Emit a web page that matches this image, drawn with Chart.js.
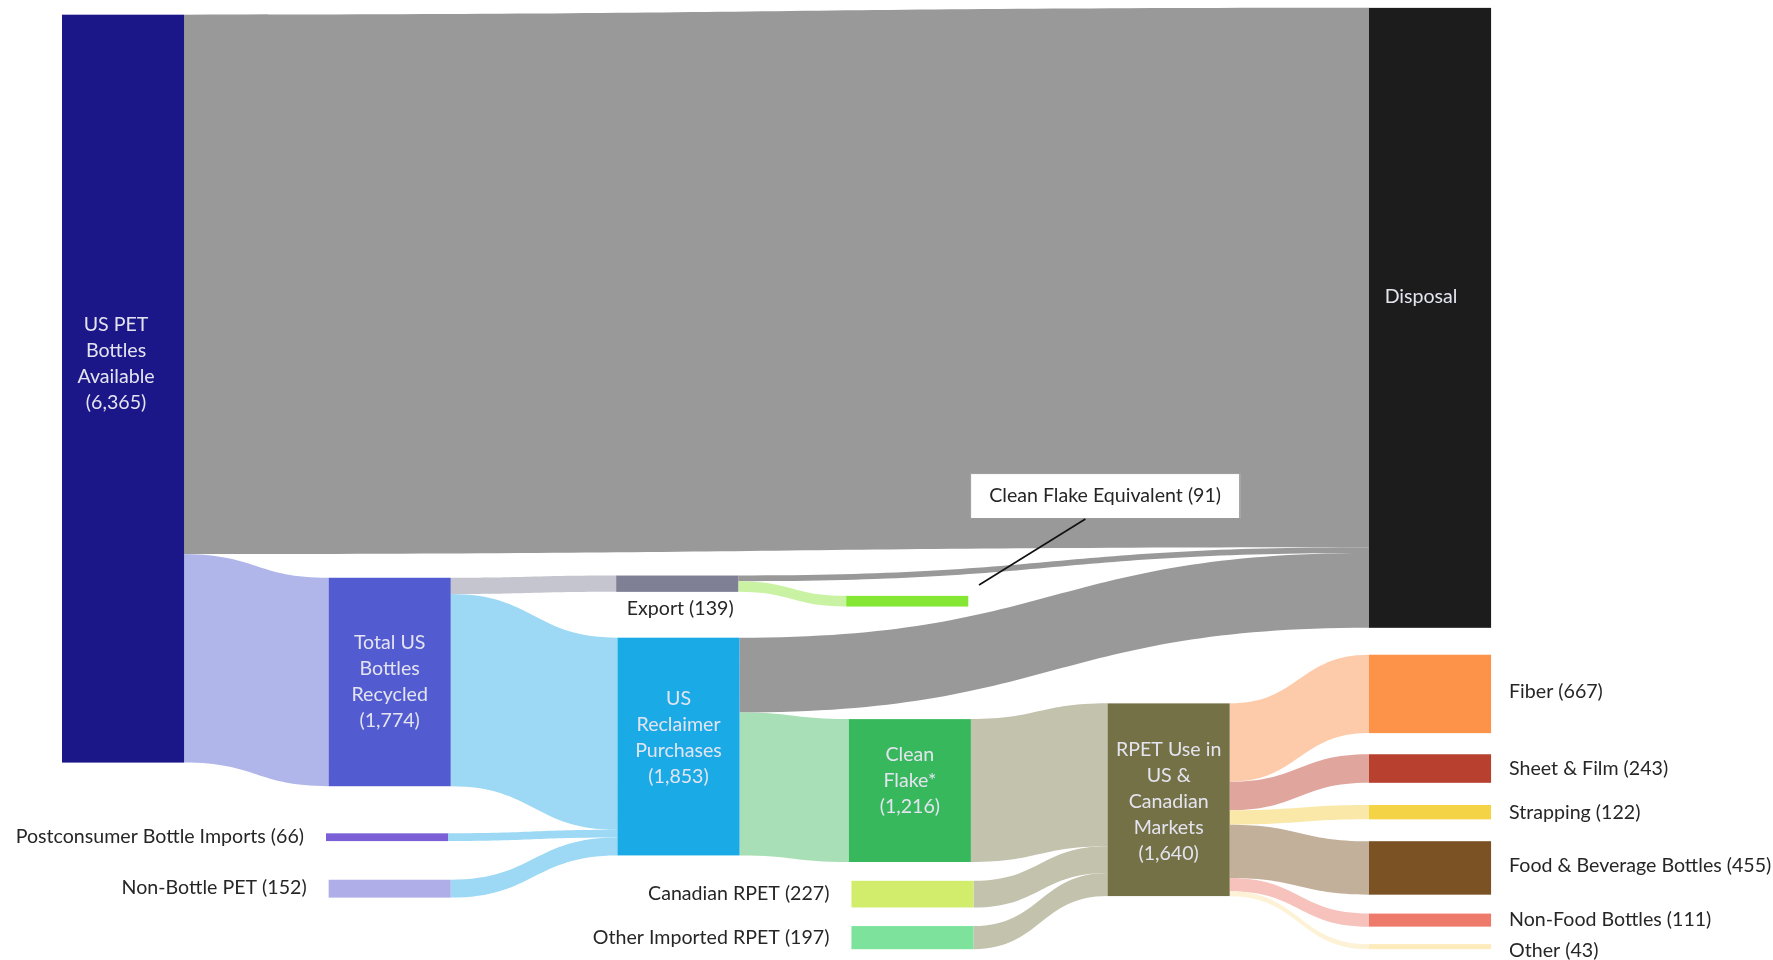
<!DOCTYPE html>
<html lang="en">
<head>
    <meta charset="UTF-8">
    <title>US PET Bottle Flows</title>
    <script src="https://cdn.jsdelivr.net/npm/chart.js"></script>
    <style>
        body { margin: 0; background: #fff; }
        .wrap { width: 1773px; height: 960px; position: relative; }
    </style>
</head>
<body>
    <div class="wrap">
        <canvas id="sankeyChart"></canvas>
    </div>

    <script>
        // Nodes (values in million lbs)
        const nodeLabels = [
            'US PET\nBottles\nAvailable\n(6,365)',
            'Disposal',
            'Total US\nBottles\nRecycled\n(1,774)',
            'Postconsumer Bottle Imports (66)',
            'Non-Bottle PET (152)',
            'Export (139)',
            'US\nReclaimer\nPurchases\n(1,853)',
            'Clean Flake Equivalent (91)',
            'Clean\nFlake*\n(1,216)',
            'Canadian RPET (227)',
            'Other Imported RPET (197)',
            'RPET Use in\nUS &\nCanadian\nMarkets\n(1,640)',
            'Fiber (667)',
            'Sheet & Film (243)',
            'Strapping (122)',
            'Food & Beverage Bottles (455)',
            'Non-Food Bottles (111)',
            'Other (43)'
        ];
        const nodeValues = [6365, 5276, 1774, 66, 152, 139, 1853, 91, 1216, 227, 197, 1640, 667, 243, 122, 455, 111, 43];

        // Flows
        const flowFrom   = [0, 0, 2, 2, 3, 4, 5, 5, 6, 6, 8, 9, 10, 11, 11, 11, 11, 11, 11];
        const flowTo     = [1, 2, 5, 6, 6, 6, 1, 7, 1, 8, 11, 11, 11, 12, 13, 14, 15, 16, 17];
        const flowValues = [4591, 1774, 139, 1635, 66, 152, 48, 91, 637, 1216, 1216, 227, 197, 667, 243, 122, 455, 111, 43];

        // Layout: column index and top (in value units) of each node
        const nodeCol = [0, 5, 1.02, 1.01, 1.02, 2.12, 2.125, 3.0, 3.01, 3.02, 3.02, 4.0, 5, 5, 5, 5, 5, 5];
        const nodeTop = [125, 67, 4917, 7092, 7487, 4898, 5427, 5071, 6120, 7496, 7881, 5986, 5572, 6419, 6851, 7159, 7775, 8035];
        // label placement: 'in' inside node, 'left', 'right', 'below', 'none'
        const labelPos = ['in', 'in', 'in', 'left', 'left', 'below', 'in', 'none', 'in', 'left', 'left', 'in',
                          'right', 'right', 'right', 'right', 'right', 'right'];
        const labelDx = [-7, -9, 0, 0, 0, 3, 0, 0, 0, 0, 0, 0, 0, 0, 0, 0, 0, 0];
        const labelDy = [-25, -21, 0, -1, -1, 0, -9, 0, -10, 0, 0, 2, -2, 0, 0, -2, 0, 4];

        const nodeColors = ['#1b1788', '#1c1c1c', '#525bcf', '#7a5fd6', '#b0aee8', '#7f7f96', '#1aabe7', '#85e634',
                            '#37b85c', '#d1ed6b', '#7de39c', '#747146', '#fd9249', '#b8402e', '#f5d346', '#7a5223',
                            '#ee7a6b', '#feebbb'];
        const flowColors = ['#999999', '#b0b5ea', '#c5c5d0', '#9dd9f4', '#9dd9f4', '#9dd9f4', '#999999', '#c9f2a3',
                            '#999999', '#a8dfb6', '#c3c2ad', '#c3c2ad', '#c3c2ad', '#fecbaa', '#e0a69e', '#fae8a8',
                            '#c2b09a', '#f6c2bb', '#fdf2d6'];

        const nodeWidth = 0.467; // in column units
        const calloutBox = { x0: 3.474, x1: 4.507, y0: 4026, y1: 4417 };
        const calloutLine = { x0: 3.915, y0: 4417, x1: 3.508, y1: 4979 };

        const FONT = '19.6px Lato, "Open Sans", sans-serif';

        const sankeyPlugin = {
            id: 'sankey',
            afterDatasetsDraw(chart) {
                const ctx = chart.ctx;
                const xs = chart.scales.x;
                const ys = chart.scales.y;
                const X = v => xs.getPixelForValue(v);
                const Y = v => ys.getPixelForValue(v);

                // stack offsets
                const outOff = nodeValues.map(() => 0);
                const inOff = nodeValues.map(() => 0);

                // Flows
                flowValues.forEach((v, i) => {
                    const s = flowFrom[i], t = flowTo[i];
                    const x0 = X(nodeCol[s] + nodeWidth);
                    const x1 = X(nodeCol[t]);
                    const sy0 = Y(nodeTop[s] + outOff[s]);
                    const sy1 = Y(nodeTop[s] + outOff[s] + v);
                    const ty0 = Y(nodeTop[t] + inOff[t]);
                    const ty1 = Y(nodeTop[t] + inOff[t] + v);
                    outOff[s] += v;
                    inOff[t] += v;
                    const xm = (x0 + x1) / 2;
                    ctx.beginPath();
                    ctx.moveTo(x0, sy0);
                    ctx.bezierCurveTo(xm, sy0, xm, ty0, x1, ty0);
                    ctx.lineTo(x1, ty1);
                    ctx.bezierCurveTo(xm, ty1, xm, sy1, x0, sy1);
                    ctx.closePath();
                    ctx.fillStyle = flowColors[i];
                    ctx.fill();
                });

                // Nodes
                nodeValues.forEach((v, i) => {
                    const left = X(nodeCol[i]);
                    const right = X(nodeCol[i] + nodeWidth);
                    const top = Y(nodeTop[i]);
                    const bottom = Y(nodeTop[i] + v);
                    ctx.fillStyle = nodeColors[i];
                    ctx.fillRect(left, top, right - left, bottom - top);
                });

                // Labels
                ctx.font = FONT;
                ctx.textBaseline = 'middle';
                nodeLabels.forEach((label, i) => {
                    const left = X(nodeCol[i]);
                    const right = X(nodeCol[i] + nodeWidth);
                    const top = Y(nodeTop[i]);
                    const bottom = Y(nodeTop[i] + nodeValues[i]);
                    const cx = (left + right) / 2 + labelDx[i];
                    const cy = (top + bottom) / 2 + labelDy[i];
                    const pos = labelPos[i];
                    if (pos === 'in') {
                        const lines = label.split('\n');
                        const lh = 26;
                        ctx.fillStyle = '#e4e4f0';
                        ctx.textAlign = 'center';
                        lines.forEach((ln, k) => {
                            ctx.fillText(ln, cx, cy + (k - (lines.length - 1) / 2) * lh);
                        });
                    } else if (pos === 'left') {
                        ctx.fillStyle = '#262626';
                        ctx.textAlign = 'right';
                        ctx.fillText(label, left - 22, cy);
                    } else if (pos === 'right') {
                        ctx.fillStyle = '#262626';
                        ctx.textAlign = 'left';
                        ctx.fillText(label, right + 18, cy);
                    } else if (pos === 'below') {
                        ctx.fillStyle = '#262626';
                        ctx.textAlign = 'center';
                        ctx.fillText(label, cx, bottom + 17);
                    }
                });

                // Callout for Clean Flake Equivalent
                const bx0 = X(calloutBox.x0), bx1 = X(calloutBox.x1);
                const by0 = Y(calloutBox.y0), by1 = Y(calloutBox.y1);
                ctx.fillStyle = '#ffffff';
                ctx.fillRect(bx0, by0, bx1 - bx0, by1 - by0);
                ctx.strokeStyle = '#9a9a9a';
                ctx.lineWidth = 1;
                ctx.strokeRect(bx0 + 0.5, by0 + 0.5, bx1 - bx0 - 1, by1 - by0 - 1);
                ctx.beginPath();
                ctx.moveTo(X(calloutLine.x0), Y(calloutLine.y0));
                ctx.lineTo(X(calloutLine.x1), Y(calloutLine.y1));
                ctx.strokeStyle = '#111111';
                ctx.lineWidth = 1.6;
                ctx.stroke();
                ctx.fillStyle = '#262626';
                ctx.textAlign = 'center';
                ctx.fillText(nodeLabels[7], (bx0 + bx1) / 2, (by0 + by1) / 2);
            }
        };

        new Chart(document.getElementById('sankeyChart'), {
            type: 'scatter',
            data: { datasets: [] },
            options: {
                responsive: true,
                maintainAspectRatio: false,
                animation: false,
                layout: { padding: 0 },
                plugins: { legend: { display: false }, tooltip: { enabled: false } },
                scales: {
                    x: { type: 'linear', display: false, min: -0.2372, max: 6.5455 },
                    y: { type: 'linear', display: false, min: 0, max: 8170, reverse: true }
                }
            },
            plugins: [sankeyPlugin]
        });
    </script>
</body>
</html>
